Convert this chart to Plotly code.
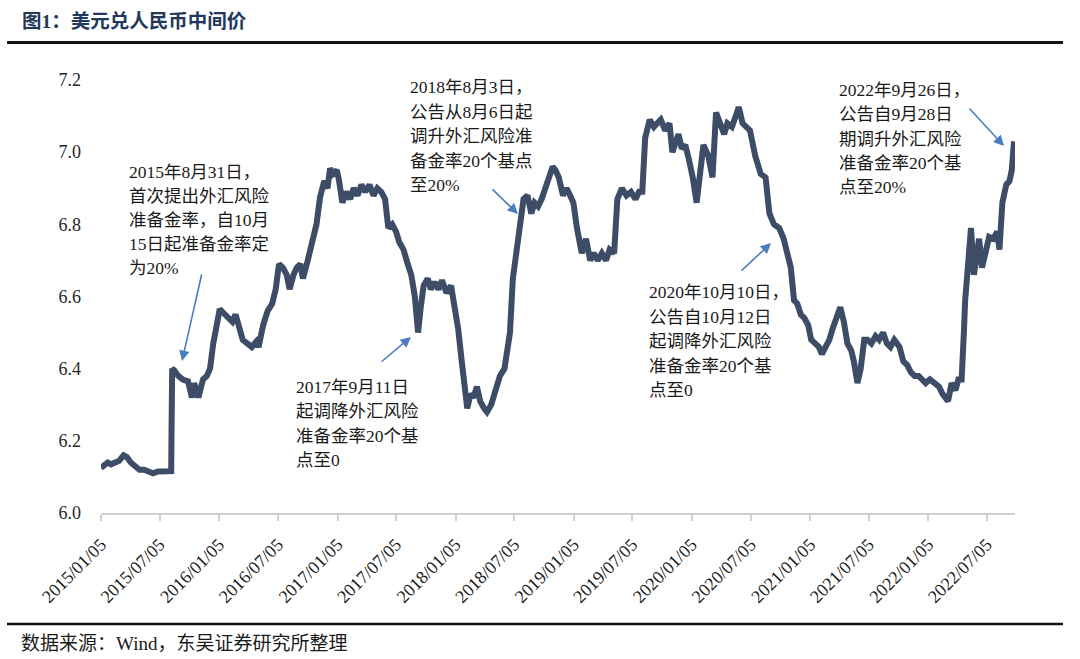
import plotly.graph_objects as go

# ---------------- data ----------------
dates = [
    "2015-01-05", "2015-01-15", "2015-01-26", "2015-02-05", "2015-02-16", "2015-03-02", "2015-03-16", "2015-03-26",
    "2015-04-07", "2015-04-20", "2015-05-04", "2015-05-18", "2015-06-01", "2015-06-15", "2015-07-01", "2015-07-15",
    "2015-08-03", "2015-08-10", "2015-08-11", "2015-08-12", "2015-08-13", "2015-08-20", "2015-09-01", "2015-09-15",
    "2015-10-01", "2015-10-13", "2015-10-20", "2015-11-02", "2015-11-16", "2015-11-28", "2015-12-08", "2015-12-18",
    "2015-12-31",
    "2016-01-07", "2016-01-18", "2016-02-01", "2016-02-15", "2016-02-25", "2016-03-07", "2016-03-18", "2016-04-01",
    "2016-04-15", "2016-04-29", "2016-05-06", "2016-05-20", "2016-06-03", "2016-06-17", "2016-06-28", "2016-07-08",
    "2016-07-20", "2016-08-01", "2016-08-10", "2016-08-22", "2016-09-01", "2016-09-12", "2016-09-20", "2016-10-05",
    "2016-10-21", "2016-11-01", "2016-11-12", "2016-11-25", "2016-12-05", "2016-12-13", "2016-12-22",
    "2017-01-03", "2017-01-10", "2017-01-20", "2017-02-01", "2017-02-13", "2017-02-24", "2017-03-08", "2017-03-20",
    "2017-04-01", "2017-04-14", "2017-04-26", "2017-05-08", "2017-05-20", "2017-06-01", "2017-06-11", "2017-06-23",
    "2017-07-05", "2017-07-15", "2017-07-28", "2017-08-10", "2017-08-21", "2017-09-01", "2017-09-11", "2017-09-18",
    "2017-09-28", "2017-10-11", "2017-10-20", "2017-11-01", "2017-11-13", "2017-11-24", "2017-12-08", "2017-12-22",
    "2018-01-02", "2018-01-13", "2018-01-24", "2018-02-01", "2018-02-10", "2018-02-20", "2018-03-01", "2018-03-12",
    "2018-03-22", "2018-04-03", "2018-04-12", "2018-04-25", "2018-05-10", "2018-05-22", "2018-06-05", "2018-06-15",
    "2018-06-22", "2018-07-01", "2018-07-12", "2018-07-24", "2018-08-03", "2018-08-15", "2018-08-27", "2018-09-06",
    "2018-09-17", "2018-09-28", "2018-10-10", "2018-10-22", "2018-11-01", "2018-11-10", "2018-11-20", "2018-12-03",
    "2018-12-14", "2018-12-25",
    "2019-01-04", "2019-01-15", "2019-01-30", "2019-02-12", "2019-02-25", "2019-03-08", "2019-03-20", "2019-04-02",
    "2019-04-15", "2019-04-26", "2019-05-10", "2019-05-20", "2019-06-03", "2019-06-17", "2019-07-01", "2019-07-15",
    "2019-07-26", "2019-08-05", "2019-08-14", "2019-08-28", "2019-09-10", "2019-09-20", "2019-10-01", "2019-10-15",
    "2019-10-28", "2019-11-06", "2019-11-15", "2019-11-25", "2019-12-05", "2019-12-16", "2019-12-27",
    "2020-01-08", "2020-01-20", "2020-02-03", "2020-02-10", "2020-02-25", "2020-03-09", "2020-03-20", "2020-04-01",
    "2020-04-14", "2020-04-24", "2020-05-08", "2020-05-20", "2020-05-29", "2020-06-10", "2020-06-22", "2020-07-03",
    "2020-07-19", "2020-08-05", "2020-08-20", "2020-09-01", "2020-09-15", "2020-10-01", "2020-10-15", "2020-10-26",
    "2020-11-06", "2020-11-16", "2020-11-26", "2020-12-07", "2020-12-18", "2020-12-30",
    "2021-01-08", "2021-01-20", "2021-02-01", "2021-02-10", "2021-02-22", "2021-03-05", "2021-03-15", "2021-03-26",
    "2021-04-08", "2021-04-19", "2021-04-30", "2021-05-12", "2021-05-20", "2021-05-31", "2021-06-10", "2021-06-21",
    "2021-07-01", "2021-07-13", "2021-07-26", "2021-08-06", "2021-08-18", "2021-08-30", "2021-09-10", "2021-09-22",
    "2021-10-08", "2021-10-20", "2021-11-01", "2021-11-12", "2021-11-24", "2021-12-06", "2021-12-16", "2021-12-28",
    "2022-01-10", "2022-01-24", "2022-02-07", "2022-02-18", "2022-03-01", "2022-03-07", "2022-03-18", "2022-03-30",
    "2022-04-08", "2022-04-18", "2022-04-25", "2022-04-29", "2022-05-09", "2022-05-17", "2022-05-26", "2022-06-11",
    "2022-06-20", "2022-07-01", "2022-07-12", "2022-07-25", "2022-08-06", "2022-08-13", "2022-08-22", "2022-09-03",
    "2022-09-13", "2022-09-20", "2022-09-27",
]
usdcny = [
    6.125, 6.13, 6.14, 6.135, 6.14, 6.145, 6.16, 6.155,
    6.14, 6.13, 6.12, 6.12, 6.115, 6.11, 6.115, 6.115,
    6.116, 6.116, 6.23, 6.33, 6.40, 6.395, 6.38, 6.37,
    6.365, 6.32, 6.36, 6.32, 6.37, 6.38, 6.40, 6.47,
    6.52,
    6.565, 6.555, 6.545, 6.53, 6.55, 6.52, 6.48, 6.47,
    6.46, 6.475, 6.46, 6.52, 6.56, 6.58, 6.62, 6.69,
    6.68, 6.66, 6.62, 6.66, 6.68, 6.69, 6.65, 6.70,
    6.76, 6.80, 6.875, 6.92, 6.90, 6.955, 6.94,
    6.95, 6.92, 6.86, 6.89, 6.87, 6.90, 6.88, 6.91,
    6.89, 6.91, 6.88, 6.90, 6.89, 6.87, 6.79, 6.80,
    6.78, 6.75, 6.73, 6.69, 6.66, 6.60, 6.50, 6.56,
    6.63, 6.65, 6.62, 6.64, 6.62, 6.645, 6.61, 6.63,
    6.58, 6.51, 6.42, 6.36, 6.29, 6.33, 6.32, 6.35,
    6.31, 6.29, 6.28, 6.30, 6.35, 6.38, 6.40, 6.45,
    6.50, 6.65, 6.72, 6.82, 6.87, 6.88, 6.83, 6.86,
    6.85, 6.87, 6.90, 6.93, 6.96, 6.95, 6.93, 6.88,
    6.90, 6.88,
    6.86, 6.79, 6.72, 6.76, 6.70, 6.72, 6.70, 6.72,
    6.70, 6.73, 6.72, 6.87, 6.90, 6.88, 6.89, 6.87,
    6.89, 6.89, 7.04, 7.09, 7.07, 7.08, 7.09, 7.06,
    7.08, 7.00, 7.03, 7.05, 7.01, 7.02, 6.98,
    6.93, 6.86, 6.99, 7.02, 6.99, 6.93, 7.11, 7.08,
    7.05, 7.08, 7.07, 7.10, 7.125, 7.08, 7.07, 7.06,
    6.99, 6.94, 6.93, 6.83, 6.80, 6.79, 6.76, 6.72,
    6.68, 6.59, 6.58, 6.55, 6.54, 6.52,
    6.48, 6.47, 6.46, 6.44, 6.46, 6.48, 6.51, 6.54,
    6.57, 6.53, 6.47, 6.45, 6.42, 6.36, 6.40, 6.48,
    6.48, 6.47, 6.49, 6.48, 6.50, 6.47, 6.46, 6.48,
    6.46, 6.42, 6.41, 6.39, 6.38, 6.38, 6.37, 6.36,
    6.37, 6.36, 6.35, 6.33, 6.32, 6.31, 6.36, 6.34,
    6.37, 6.37, 6.50, 6.59, 6.70, 6.79, 6.66, 6.76,
    6.68, 6.72, 6.765, 6.76, 6.78, 6.73, 6.86, 6.91,
    6.92, 6.95, 7.03,
]

tick_dates = ["2015-01-05", "2015-07-05", "2016-01-05", "2016-07-05", "2017-01-05", "2017-07-05",
              "2018-01-05", "2018-07-05", "2019-01-05", "2019-07-05", "2020-01-05", "2020-07-05",
              "2021-01-05", "2021-07-05", "2022-01-05", "2022-07-05"]
tick_labels = [d.replace("-", "/") for d in tick_dates]
y_ticks = [6.0, 6.2, 6.4, 6.6, 6.8, 7.0, 7.2]

title_text = "图1：美元兑人民币中间价"
source_text = "数据来源：Wind，东吴证券研究所整理"

notes = [
    ["2015年8月31日，", "首次提出外汇风险", "准备金率，自10月", "15日起准备金率定", "为20%"],
    ["2017年9月11日", "起调降外汇风险", "准备金率20个基", "点至0"],
    ["2018年8月3日，", "公告从8月6日起", "调升外汇风险准", "备金率20个基点", "至20%"],
    ["2020年10月10日，", "公告自10月12日", "起调降外汇风险", "准备金率20个基", "点至0"],
    ["2022年9月26日，", "公告自9月28日", "期调升外汇风险", "准备金率20个基", "点至20%"],
]

# ---------------- layout helpers (pixel -> paper) ----------------
W, H = 1080, 659
L, R, T, B = 101, 65, 80, 146
PW, PH = W - L - R, H - T - B


def PX(x):
    return (x - L) / PW


def PY(y):
    return (H - B - y) / PH


FONT = "Liberation Serif, 'Noto Sans CJK SC', serif"
LINE_COLOR = "#3D4C67"
ARROW_COLOR = "#4A7EBF"

fig = go.Figure()
fig.add_trace(go.Scatter(
    x=dates, y=usdcny, mode="lines",
    line=dict(color=LINE_COLOR, width=6),
    hoverinfo="skip", showlegend=False,
))

annotations = []
# note text blocks: (left px, first-line centre px, line step px)
note_pos = [(127, 172, 24.0), (294, 387, 24.3), (408, 87, 24.5), (647, 292, 24.5), (837, 90, 24.3)]
for lines, (lx, ly, step) in zip(notes, note_pos):
    for i, t in enumerate(lines):
        annotations.append(dict(
            x=PX(lx), y=PY(ly + i * step), xref="paper", yref="paper",
            text=t, showarrow=False, xanchor="left", yanchor="middle",
            font=dict(family=FONT, size=17.5, color="#1a1a1a"),
        ))

# arrows: (tail px, head px)
arrows = [((202, 273), (182, 361)), ((380, 363), (411, 337)), ((491, 188), (518, 214)),
          ((740, 272), (771, 243)), ((968, 107), (1004, 146))]
for (tx, ty), (hx, hy) in arrows:
    annotations.append(dict(
        x=PX(hx), y=PY(hy), xref="paper", yref="paper",
        ax=tx - hx, ay=ty - hy, axref="pixel", ayref="pixel",
        text="", showarrow=True, arrowhead=2, arrowsize=1.3, arrowwidth=1.6,
        arrowcolor=ARROW_COLOR, standoff=0, startstandoff=0,
    ))

annotations.append(dict(
    x=PX(20), y=PY(21), xref="paper", yref="paper", text="<b>" + title_text + "</b>",
    showarrow=False, xanchor="left", yanchor="middle",
    font=dict(family=FONT, size=19.5, color="#23395B"),
))
annotations.append(dict(
    x=PX(19), y=PY(643), xref="paper", yref="paper", text=source_text,
    showarrow=False, xanchor="left", yanchor="middle",
    font=dict(family=FONT, size=19, color="#1a1a1a"),
))

shapes = [
    dict(type="line", xref="paper", yref="paper", x0=PX(7), x1=PX(1063), y0=PY(42.5), y1=PY(42.5),
         line=dict(color="#111111", width=3)),
    dict(type="line", xref="paper", yref="paper", x0=PX(7), x1=PX(1063), y0=PY(624), y1=PY(624),
         line=dict(color="#111111", width=2.5)),
]

fig.update_layout(
    width=W, height=H,
    margin=dict(l=L, r=R, t=T, b=B, pad=0),
    paper_bgcolor="white", plot_bgcolor="white",
    annotations=annotations, shapes=shapes,
    showlegend=False,
    xaxis=dict(
        type="date", range=["2015-01-05", "2022-09-30"],
        tickmode="array", tickvals=tick_dates, ticktext=tick_labels,
        tickangle=-45, tickfont=dict(family=FONT, size=18, color="#1a1a1a"),
        showgrid=False, zeroline=False,
        showline=True, linecolor="#D0D0D0", linewidth=2,
        ticks="outside", ticklen=6, tickwidth=2, tickcolor="#D0D0D0",
        ticklabelstandoff=6,
    ),
    yaxis=dict(
        range=[6.0, 7.2], tickmode="array", tickvals=y_ticks,
        ticktext=[f"{v:.1f}" for v in y_ticks],
        tickfont=dict(family=FONT, size=18, color="#262626"),
        showgrid=False, zeroline=False, showline=False, ticks="",
        ticklabelstandoff=19,
    ),
)

fig.write_html("out.html")
